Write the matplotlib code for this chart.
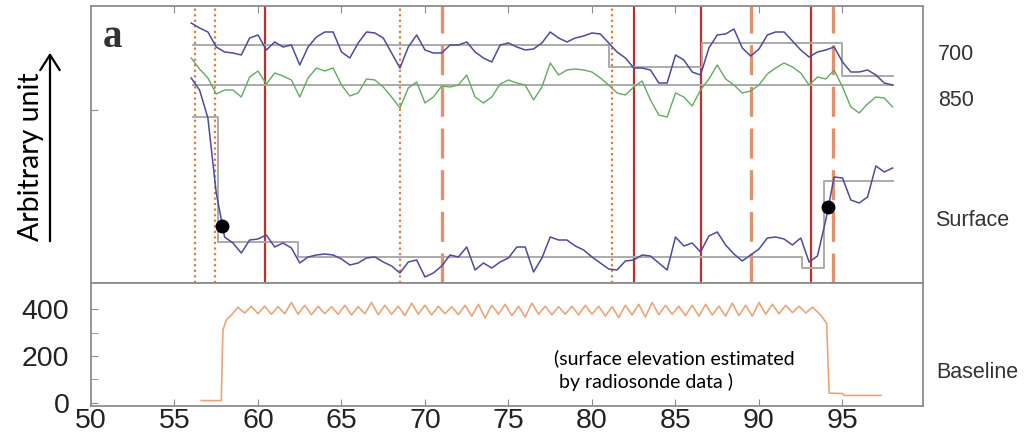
import numpy as np
import matplotlib
matplotlib.use('Agg')
import matplotlib.pyplot as plt

plt.rcParams['font.family'] = ['Liberation Sans', 'DejaVu Sans']

# sampling positions of the three retrieved traces (time axis)
x_trace = np.arange(56.0, 98.01, 0.5)

trace_700 = [260, 255, 251, 236, 231, 230, 228, 245, 248, 233,
             241, 236, 238, 218, 236, 246, 251, 251, 231, 225,
             240, 251, 250, 245, 230, 215, 236, 248, 233, 230,
             230, 238, 238, 241, 231, 225, 221, 238, 240, 236,
             233, 234, 240, 251, 245, 241, 245, 247, 250, 249,
             240, 231, 225, 215, 215, 213, 200, 200, 228, 223,
             211, 208, 235, 248, 249, 254, 235, 227, 234, 248,
             251, 251, 242, 233, 226, 231, 233, 236, 221, 211,
             211, 213, 208, 200, 198]

trace_850 = [225, 214, 205, 189, 193, 193, 186, 206, 212, 199,
             210, 207, 203, 186, 205, 215, 212, 215, 198, 187,
             190, 204, 203, 196, 186, 175, 195, 201, 180, 186,
             197, 196, 198, 208, 186, 180, 186, 199, 203, 200,
             198, 183, 196, 220, 208, 213, 214, 213, 211, 205,
             198, 190, 188, 196, 202, 183, 168, 166, 190, 186,
             177, 193, 204, 218, 204, 198, 190, 192, 198, 209,
             215, 220, 216, 210, 198, 206, 204, 213, 196, 176,
             170, 179, 186, 185, 176]

trace_surface = [205, 193, 165, 90, 46, 40, 30, 43, 44, 48,
                 36, 40, 35, 20, 26, 28, 29, 28, 24, 18,
                 20, 25, 26, 21, 17, 10, 21, 23, 6, 10,
                 17, 28, 26, 36, 13, 20, 15, 21, 25, 36,
                 36, 11, 25, 46, 43, 43, 37, 33, 26, 20,
                 14, 13, 22, 23, 28, 27, 20, 13, 46, 37,
                 40, 31, 47, 51, 38, 29, 22, 28, 34, 45,
                 46, 44, 38, 45, 21, 27, 63, 106, 105, 83,
                 80, 86, 117, 111, 115]

# step (gray) fits
step700_x = [56.1, 81.0, 81.0, 86.6, 86.6, 95.0, 95.0, 98.0]
step700_y = [238, 238, 216, 216, 240, 240, 207, 207]
step850_x = [56.1, 98.0]
step850_y = [198, 198]
stepsurf_x = [56.1, 57.6, 57.6, 62.4, 62.4, 92.6, 92.6, 93.9, 93.9, 98.0]
stepsurf_y = [166, 166, 41, 41, 26, 26, 15, 15, 102, 102]

dots_x = [57.84, 94.15]
dots_y = [57, 76]

# vertical markers
dotted_x = [56.2, 57.4, 68.5, 81.2]
solid_x = [60.4, 82.5, 86.5, 93.1]
dashed_x = [71.0, 89.5, 94.45]

# baseline (m)
ramp_x = [56.6, 57.8, 57.9, 58.1, 58.4]
ramp_y = [10, 10, 310, 353, 374]
wave_x = np.arange(58.8, 93.21, 0.4)
wave_y = [408, 383, 412, 380, 412, 378, 410, 380, 428, 378,
          416, 376, 412, 380, 410, 378, 416, 375, 410, 380,
          428, 376, 416, 378, 412, 372, 425, 378, 416, 375,
          412, 380, 410, 376, 416, 370, 420, 362, 416, 378,
          420, 372, 412, 366, 425, 378, 412, 376, 410, 378,
          412, 375, 416, 378, 412, 370, 410, 364, 416, 375,
          420, 366, 428, 376, 416, 378, 412, 372, 416, 370,
          420, 375, 412, 370, 425, 372, 416, 370, 428, 378,
          420, 380, 416, 385, 412, 383, 408]
tail_x = [93.7, 94.05, 94.2, 95.0, 95.1, 97.3]
tail_y = [374, 339, 42, 40, 32, 32]

baseline_x = np.concatenate([ramp_x, wave_x, tail_x])
baseline_y = np.concatenate([ramp_y, wave_y, tail_y])

fig = plt.figure(figsize=(10.27, 4.47), dpi=100)
ax1 = fig.add_axes([0.0886, 0.3669, 0.8098, 0.6197])
ax2 = fig.add_axes([0.0886, 0.0917, 0.8098, 0.2752])

spine_col = '#8c8c8c'
for ax in (ax1, ax2):
    for s in ax.spines.values():
        s.set_color(spine_col)
        s.set_linewidth(1.3)
    ax.set_xlim(50, 99.8)

# top panel
for xv in dotted_x:
    ax1.axvline(xv, color='#e07a3c', lw=1.6, ls=(0, (1, 1.5)), zorder=1)
for xv in solid_x:
    ax1.axvline(xv, color='#c0302a', lw=1.6, zorder=1)
for xv in dashed_x:
    ax1.axvline(xv, color='#e3906c', lw=2.4, ls=(0, (9, 3.5)), zorder=1)

gray = '#ababab'
ax1.plot(step700_x, step700_y, color=gray, lw=1.4, zorder=2)
ax1.plot(step850_x, step850_y, color=gray, lw=1.4, zorder=2)
ax1.plot(stepsurf_x, stepsurf_y, color=gray, lw=1.4, zorder=2)

ax1.plot(x_trace, trace_700, color='#4b4ba0', lw=1.1, zorder=3)
ax1.plot(x_trace, trace_850, color='#62ab62', lw=1.0, zorder=3)
ax1.plot(x_trace, trace_surface, color='#4b4ba0', lw=1.1, zorder=3)
ax1.plot(dots_x, dots_y, 'o', color='black', ms=9, zorder=4)

ax1.set_ylim(0, 277)
ax1.set_xticks(np.arange(55, 100, 5))
ax1.set_yticks([173])
ax1.tick_params(direction='in', top=True, bottom=False, labelbottom=False,
                labelleft=False, color=spine_col, length=5)
ax1.text(0.014, 0.885, 'a', transform=ax1.transAxes, family='Liberation Serif',
         fontweight='bold', fontsize=28, color='#333333', va='center')

# bottom panel
ax2.plot(baseline_x, baseline_y, color='#eaa57a', lw=1.2)
ax2.set_ylim(-13, 511)
ax2.set_xticks(np.arange(50, 100, 5))
ax2.set_yticks([0, 200, 400])
ax2.set_yticks([100, 300], minor=True)
ax2.tick_params(direction='in', which='both', color=spine_col, length=5)
ax2.tick_params(axis='x', labelsize=20.5, labelcolor='#222222', pad=1.5)
ax2.tick_params(axis='y', labelsize=20.5, labelcolor='#222222', pad=15.5)
ax2.text(0.557, 0.29, '(surface elevation estimated\n by radiosonde data )',
         transform=ax2.transAxes, family=['Lato', 'DejaVu Sans'], fontsize=14,
         linespacing=1.4, va='center', ha='left', color='black')

# right-hand labels
lab_kw = dict(fontsize=15.5, color='#333333', va='center', ha='left')
fig.text(938 / 1027, 1 - 55 / 447, '700', **lab_kw)
fig.text(938 / 1027, 1 - 100 / 447, '850', **lab_kw)
fig.text(935 / 1027, 1 - 220 / 447, 'Surface', **lab_kw)
fig.text(936 / 1027, 1 - 372 / 447, 'Baseline', **lab_kw)

# y axis label with arrow
fig.text(31 / 1027, 1 - 157 / 447, 'Arbitrary unit', rotation=90,
         family=['Lato', 'DejaVu Sans'], fontsize=20.5, va='center', ha='center')
fig.add_artist(matplotlib.patches.FancyArrowPatch(
    (50 / 1027, 1 - 244 / 447), (50 / 1027, 1 - 50 / 447),
    transform=fig.transFigure, arrowstyle='->,head_length=11,head_width=7',
    color='black', lw=1.6, mutation_scale=1))

fig.savefig('out.png', dpi=100)
